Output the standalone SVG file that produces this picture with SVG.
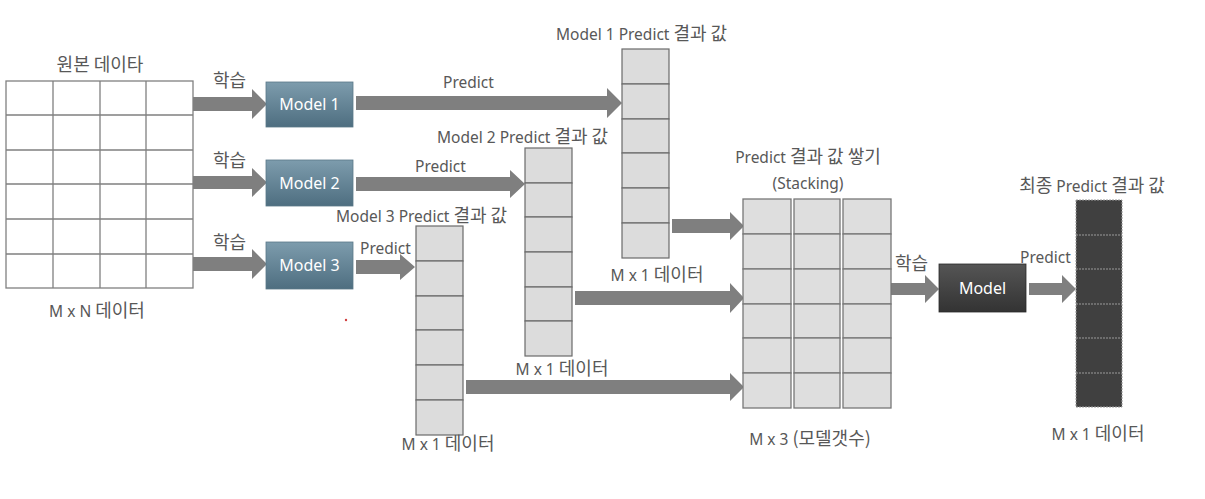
<svg xmlns="http://www.w3.org/2000/svg" width="1205" height="499" viewBox="0 0 1205 499">
<defs>
<linearGradient id="blueG" x1="0" y1="0" x2="0" y2="1">
<stop offset="0" stop-color="#7d9cad"/>
<stop offset="1" stop-color="#4e6e80"/>
</linearGradient>
<linearGradient id="darkG" x1="0" y1="0" x2="0" y2="1">
<stop offset="0" stop-color="#555555"/>
<stop offset="1" stop-color="#333333"/>
</linearGradient>
</defs>
<style>
text{font-family:"Noto Sans","Noto Sans CJK KR",sans-serif;font-size:15.5px;fill:#585858;}
.k{font-family:"Noto Sans CJK KR",sans-serif;font-size:18px;}
.mid{text-anchor:middle;}
.wt{fill:#ffffff;font-size:16px;}
.grid{fill:#ffffff;stroke:#808080;stroke-width:1.3;}
.cell{fill:#dcdcdc;stroke:#6a6a6a;stroke-width:1.2;}
.scell{fill:#dedede;stroke:#777777;stroke-width:1.3;}
.arrow{fill:#7f7f7f;}
.mbox{fill:url(#blueG);stroke:#5a7888;stroke-width:0.8;}
.dbox{fill:url(#darkG);stroke:#2a2a2a;stroke-width:0.8;}
</style>
<rect width="1205" height="499" fill="#ffffff"/>

<g id="connectors">
<polygon class="arrow" points="193,97 252,97 252,89 267,104 252,119 252,111 193,111"/>
<polygon class="arrow" points="193,176 252,176 252,168 267,182.5 252,197 252,189 193,189"/>
<polygon class="arrow" points="193,257 252,257 252,249 267,264 252,279 252,271 193,271"/>
<polygon class="arrow" points="356,96 607,96 607,88 622,103 607,118 607,110 356,110"/>
<polygon class="arrow" points="356,177 510,177 510,170 525,184 510,198 510,191 356,191"/>
<polygon class="arrow" points="356,260 400,260 400,254 415,267 400,280 400,274 356,274"/>
<polygon class="arrow" points="672,219 730,219 730,212 744,226 730,240 730,233 672,233"/>
<polygon class="arrow" points="575,291 730,291 730,283 744,298 730,313 730,305 575,305"/>
<polygon class="arrow" points="466,380 730,380 730,373 744,387 730,401 730,394 466,394"/>
<polygon class="arrow" points="891,283 925,283 925,275 939,289 925,303 925,295 891,295"/>
<polygon class="arrow" points="1029,283 1062,283 1062,275 1076,289 1062,303 1062,295 1029,295"/>
</g>

<g id="source-data">
<text class="mid k" x="100" y="71">원본 데이타</text>
<rect class="grid" x="6" y="81" width="187" height="207"/>
<path d="M53,81V288M100,81V288M146,81V288M6,115H193M6,150H193M6,184H193M6,219H193M6,254H193" stroke="#808080" stroke-width="1.3" fill="none"/>
<text class="mid" x="97" y="317">M x N <tspan class="k">데이터</tspan></text>
</g>

<g id="learn-labels">
<text class="k" x="213" y="87">학습</text>
<text class="k" x="213" y="167">학습</text>
<text class="k" x="213" y="249">학습</text>
</g>

<g id="model1">
<rect class="mbox" x="266" y="82" width="87" height="45"/>
<text class="wt mid" x="309.5" y="110">Model 1</text>
</g>
<g id="model2">
<rect class="mbox" x="266" y="160" width="87" height="46"/>
<text class="wt mid" x="309.5" y="189">Model 2</text>
</g>
<g id="model3">
<rect class="mbox" x="266" y="242" width="87" height="47"/>
<text class="wt mid" x="309.5" y="271">Model 3</text>
</g>

<g id="predict-labels">
<text x="443" y="88">Predict</text>
<text x="415" y="172">Predict</text>
<text x="360" y="254">Predict</text>
</g>

<g id="pred1">
<text x="556" y="40">Model 1 Predict <tspan class="k">결과 값</tspan></text>
<rect class="cell" x="622" y="49" width="47" height="35"/>
<rect class="cell" x="622" y="84" width="47" height="35"/>
<rect class="cell" x="622" y="119" width="47" height="34"/>
<rect class="cell" x="622" y="153" width="47" height="35"/>
<rect class="cell" x="622" y="188" width="47" height="35"/>
<rect class="cell" x="622" y="223" width="47" height="35"/>
<text class="mid" x="657" y="281">M x 1 <tspan class="k">데이터</tspan></text>
</g>

<g id="pred2">
<text x="437" y="143">Model 2 Predict <tspan class="k">결과 값</tspan></text>
<rect class="cell" x="525" y="148" width="47" height="35"/>
<rect class="cell" x="525" y="183" width="47" height="34"/>
<rect class="cell" x="525" y="217" width="47" height="35"/>
<rect class="cell" x="525" y="252" width="47" height="35"/>
<rect class="cell" x="525" y="287" width="47" height="34"/>
<rect class="cell" x="525" y="321" width="47" height="35"/>
<text class="mid" x="562" y="375">M x 1 <tspan class="k">데이터</tspan></text>
</g>

<g id="pred3">
<text x="336" y="222">Model 3 Predict <tspan class="k">결과 값</tspan></text>
<rect class="cell" x="416" y="226" width="47" height="35"/>
<rect class="cell" x="416" y="261" width="47" height="35"/>
<rect class="cell" x="416" y="296" width="47" height="34"/>
<rect class="cell" x="416" y="330" width="47" height="35"/>
<rect class="cell" x="416" y="365" width="47" height="35"/>
<rect class="cell" x="416" y="400" width="47" height="35"/>
<text class="mid" x="448" y="450">M x 1 <tspan class="k">데이터</tspan></text>
</g>

<circle cx="346" cy="320" r="1.2" fill="#d04040"/>

<g id="stacking">
<text class="mid" x="808" y="163">Predict <tspan class="k">결과 값 쌓기</tspan></text>
<text class="mid" x="808" y="189">(Stacking)</text>
<g>
<rect class="scell" x="743" y="199" width="48" height="35"/>
<rect class="scell" x="743" y="234" width="48" height="35"/>
<rect class="scell" x="743" y="269" width="48" height="35"/>
<rect class="scell" x="743" y="304" width="48" height="34"/>
<rect class="scell" x="743" y="338" width="48" height="35"/>
<rect class="scell" x="743" y="373" width="48" height="35"/>
<rect class="scell" x="794" y="199" width="46" height="35"/>
<rect class="scell" x="794" y="234" width="46" height="35"/>
<rect class="scell" x="794" y="269" width="46" height="35"/>
<rect class="scell" x="794" y="304" width="46" height="34"/>
<rect class="scell" x="794" y="338" width="46" height="35"/>
<rect class="scell" x="794" y="373" width="46" height="35"/>
<rect class="scell" x="843" y="199" width="48" height="35"/>
<rect class="scell" x="843" y="234" width="48" height="35"/>
<rect class="scell" x="843" y="269" width="48" height="35"/>
<rect class="scell" x="843" y="304" width="48" height="34"/>
<rect class="scell" x="843" y="338" width="48" height="35"/>
<rect class="scell" x="843" y="373" width="48" height="35"/>
</g>
<text class="mid" x="810" y="445">M x 3 <tspan class="k">(모델갯수)</tspan></text>
</g>

<text class="k" x="895" y="270">학습</text>

<g id="final-model">
<rect class="dbox" x="939" y="264" width="87" height="48"/>
<text class="wt mid" x="982.5" y="294">Model</text>
</g>

<text x="1020" y="263">Predict</text>

<g id="final-result">
<text class="mid" x="1092" y="192"><tspan class="k">최종</tspan> Predict <tspan class="k">결과 값</tspan></text>
<rect x="1076" y="200" width="46" height="207" fill="#404040"/>
<path d="M1076,200H1122V407H1076ZM1076,235H1122M1076,269H1122M1076,304H1122M1076,338H1122M1076,373H1122" fill="none" stroke="#9a9a9a" stroke-width="1" stroke-dasharray="2 1"/>
<text class="mid" x="1098" y="440">M x 1 <tspan class="k">데이터</tspan></text>
</g>
</svg>
